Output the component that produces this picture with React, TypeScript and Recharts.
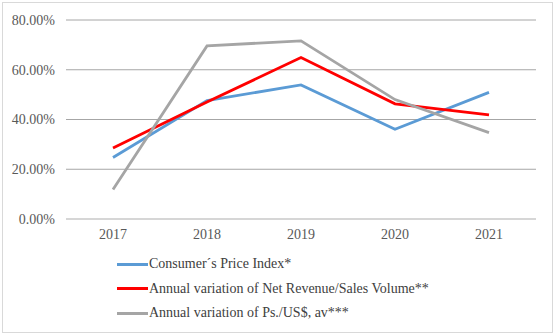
import React from 'react';
import { LineChart, Line, XAxis, YAxis, CartesianGrid } from 'recharts';

const years = ['2017', '2018', '2019', '2020', '2021'];
const cpi = [24.7, 47.6, 53.9, 36.1, 50.9];
const netRevenue = [28.5, 47.0, 64.9, 46.3, 41.9];
const pesoDollar = [11.9, 69.6, 71.6, 48.0, 34.7];
const yTicks = [0, 20, 40, 60, 80];

const SERIES = [
  { key: 'cpi', name: 'Consumer´s Price Index*', color: '#5B9BD5' },
  { key: 'rev', name: 'Annual variation of Net Revenue/Sales Volume**', color: '#FF0000' },
  { key: 'fx', name: 'Annual variation of Ps./US$, av***', color: '#A5A5A5' },
];

const data = years.map((y, i) => ({
  year: y,
  cpi: cpi[i],
  rev: netRevenue[i],
  fx: pesoDollar[i],
}));

const FONT = 'Liberation Serif, Times New Roman, serif';

const App: React.FC = () => {
  return (
    <div style={{ position: 'absolute', left: 0, top: 0, width: 555, height: 335, background: '#fff' }}>
      <div
        style={{
          position: 'absolute',
          left: 2,
          top: 2,
          width: 549,
          height: 329,
          border: '1px solid #D9D9D9',
        }}
      />
      <div style={{ position: 'absolute', left: 0, top: 0 }}>
        <LineChart
          width={555}
          height={335}
          data={data}
          margin={{ top: 20, right: 19, left: 0, bottom: 86 }}
        >
          <CartesianGrid vertical={false} stroke="#A6A6A6" strokeWidth={1} />
          <XAxis
            dataKey="year"
            height={30}
            padding={{ left: 47, right: 47 }}
            axisLine={{ stroke: '#D9D9D9' }}
            tickLine={false}
            tickSize={0}
            tickMargin={10}
            tick={{ fontFamily: FONT, fontSize: 14, fill: '#595959' }}
          />
          <YAxis
            width={66}
            domain={[0, 80]}
            ticks={yTicks}
            axisLine={false}
            tickLine={false}
            tickSize={0}
            tickMargin={11}
            tickFormatter={(v: number) => `${v.toFixed(2)}%`}
            tick={{ fontFamily: FONT, fontSize: 14, fill: '#595959' }}
          />
          {SERIES.map((s) => (
            <Line
              key={s.key}
              type="linear"
              dataKey={s.key}
              name={s.name}
              stroke={s.color}
              strokeWidth={2.8}
              dot={false}
              activeDot={false}
              isAnimationActive={false}
            />
          ))}
        </LineChart>
      </div>
      <div
        style={{
          position: 'absolute',
          left: 117,
          top: 252,
          fontFamily: FONT,
          fontSize: 14,
          color: '#404040',
        }}
      >
        {SERIES.map((s) => (
          <div key={s.key} style={{ display: 'flex', alignItems: 'center', height: 24.5 }}>
            <div style={{ width: 31, height: 3, background: s.color, marginRight: 1 }} />
            <span>{s.name}</span>
          </div>
        ))}
      </div>
    </div>
  );
};

export default App;
